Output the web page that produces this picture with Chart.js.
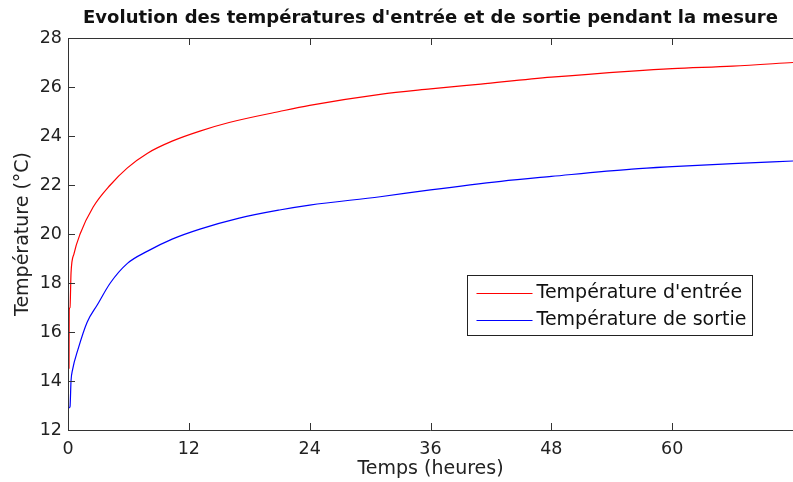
<!DOCTYPE html>
<html>
<head>
<meta charset="utf-8">
<script src="https://cdn.jsdelivr.net/npm/chart.js@4.4.1/dist/chart.umd.min.js"></script>
<style>
  html, body { margin: 0; padding: 0; background: #fff; }
  #wrap { width: 793px; height: 482px; }
</style>
</head>
<body>
<div id="wrap"><canvas id="c"></canvas></div>
<script>
// Temps (heures) et températures.
const hoursIn = [0.1, 0.12, 0.2, 0.3, 0.6, 1.2, 2.5, 4.2, 5.9, 7.9, 10.4, 13.1, 16, 21, 24, 31, 36, 41, 48, 56, 60, 66, 72];
const tempIn  = [14.5, 16.9, 17.0, 18.4, 19.2, 20.0, 21.1, 22.0, 22.7, 23.3, 23.8, 24.2, 24.55, 25.0, 25.25, 25.7, 25.92, 26.12, 26.4, 26.65, 26.75, 26.85, 27.0];

const hoursOut = [0.12, 0.2, 0.3, 0.45, 1.0, 1.9, 2.9, 4.2, 5.9, 7.9, 10.4, 13.1, 17, 21, 24, 31, 36, 43, 48, 56, 60, 66, 72];
const tempOut  = [12.9, 12.95, 14.0, 14.45, 15.3, 16.4, 17.1, 18.0, 18.8, 19.3, 19.8, 20.2, 20.65, 20.98, 21.18, 21.52, 21.8, 22.15, 22.35, 22.65, 22.75, 22.87, 22.98];

const xTicks = [0, 12, 24, 36, 48, 60];
const yTicks = [12, 14, 16, 18, 20, 22, 24, 26, 28];

const FONT = 'DejaVu Sans';
const toXY = (xs, ys) => xs.map((v, i) => ({ x: v, y: ys[i] }));

// Cadre façon MATLAB : axes gauche/haut/bas, graduations vers l'intérieur, légende encadrée.
const frame = {
    id: 'frame',
    afterDraw(chart) {
        const { ctx, chartArea: a, scales: { x, y } } = chart;
        ctx.save();
        ctx.strokeStyle = '#333';
        ctx.lineWidth = 1;
        ctx.beginPath();
        ctx.moveTo(a.left + 0.5, a.bottom + 0.5);
        ctx.lineTo(a.left + 0.5, a.top + 0.5);
        ctx.lineTo(a.right, a.top + 0.5);
        ctx.moveTo(a.left, a.bottom + 0.5);
        ctx.lineTo(a.right, a.bottom + 0.5);
        xTicks.forEach(v => {
            const px = Math.round(x.getPixelForValue(v)) + 0.5;
            ctx.moveTo(px, a.bottom); ctx.lineTo(px, a.bottom - 7);
            ctx.moveTo(px, a.top); ctx.lineTo(px, a.top + 7);
        });
        yTicks.forEach(v => {
            const py = Math.round(y.getPixelForValue(v)) + 0.5;
            ctx.moveTo(a.left, py); ctx.lineTo(a.left + 7, py);
        });
        ctx.stroke();

        // légende
        const bx = 467.5, by = 275.5, bw = 285, bh = 60;
        ctx.fillStyle = '#fff';
        ctx.fillRect(bx, by, bw, bh);
        ctx.strokeStyle = '#222';
        ctx.strokeRect(bx, by, bw, bh);
        ctx.font = `19px "${FONT}"`;
        ctx.textBaseline = 'middle';
        chart.data.datasets.forEach((ds, i) => {
            const ly = by + 18 + i * 27;
            ctx.strokeStyle = ds.borderColor;
            ctx.beginPath();
            ctx.moveTo(bx + 9, ly); ctx.lineTo(bx + 65, ly);
            ctx.stroke();
            ctx.fillStyle = '#111';
            ctx.fillText(ds.label, bx + 69, ly);
        });
        ctx.restore();
    },
};

new Chart(document.getElementById('c'), {
    type: 'line',
    data: {
        datasets: [
            {
                label: "Température d'entrée",
                data: toXY(hoursIn, tempIn),
                borderColor: '#ff0000',
                borderWidth: 1.2,
                pointRadius: 0,
                cubicInterpolationMode: 'monotone',
            },
            {
                label: 'Température de sortie',
                data: toXY(hoursOut, tempOut),
                borderColor: '#0000ff',
                borderWidth: 1.2,
                pointRadius: 0,
                cubicInterpolationMode: 'monotone',
            },
        ],
    },
    options: {
        responsive: true,
        maintainAspectRatio: false,
        animation: false,
        layout: { padding: 0 },
        plugins: {
            legend: { display: false },
            tooltip: { enabled: false },
            title: {
                display: true,
                fullSize: false,
                text: "Evolution des températures d'entrée et de sortie pendant la mesure",
                color: '#111',
                font: { family: FONT, size: 18, weight: 'bold' },
                padding: { top: 7.5, bottom: 8.9 },
            },
        },
        scales: {
            x: {
                type: 'linear',
                min: 0,
                max: 72,
                afterBuildTicks: s => { s.ticks = xTicks.map(v => ({ value: v })); },
                afterFit: s => { s.height = 52; },
                grid: { display: false, drawTicks: false },
                border: { display: false },
                ticks: { color: '#222', padding: 9, font: { family: FONT, size: 17.5 } },
                title: {
                    display: true,
                    text: 'Temps (heures)',
                    color: '#222',
                    font: { family: FONT, size: 19 },
                    padding: { top: 0, bottom: 2 },
                },
            },
            y: {
                min: 12,
                max: 28,
                afterBuildTicks: s => { s.ticks = yTicks.map(v => ({ value: v })); },
                afterFit: s => { s.width = 68; },
                grid: { display: false, drawTicks: false },
                border: { display: false },
                ticks: { color: '#222', padding: 6, font: { family: FONT, size: 17.5 } },
                title: {
                    display: true,
                    text: 'Température (°C)',
                    color: '#222',
                    font: { family: FONT, size: 19 },
                    padding: { top: 12, bottom: 0 },
                },
            },
        },
    },
    plugins: [frame],
});
</script>
</body>
</html>
